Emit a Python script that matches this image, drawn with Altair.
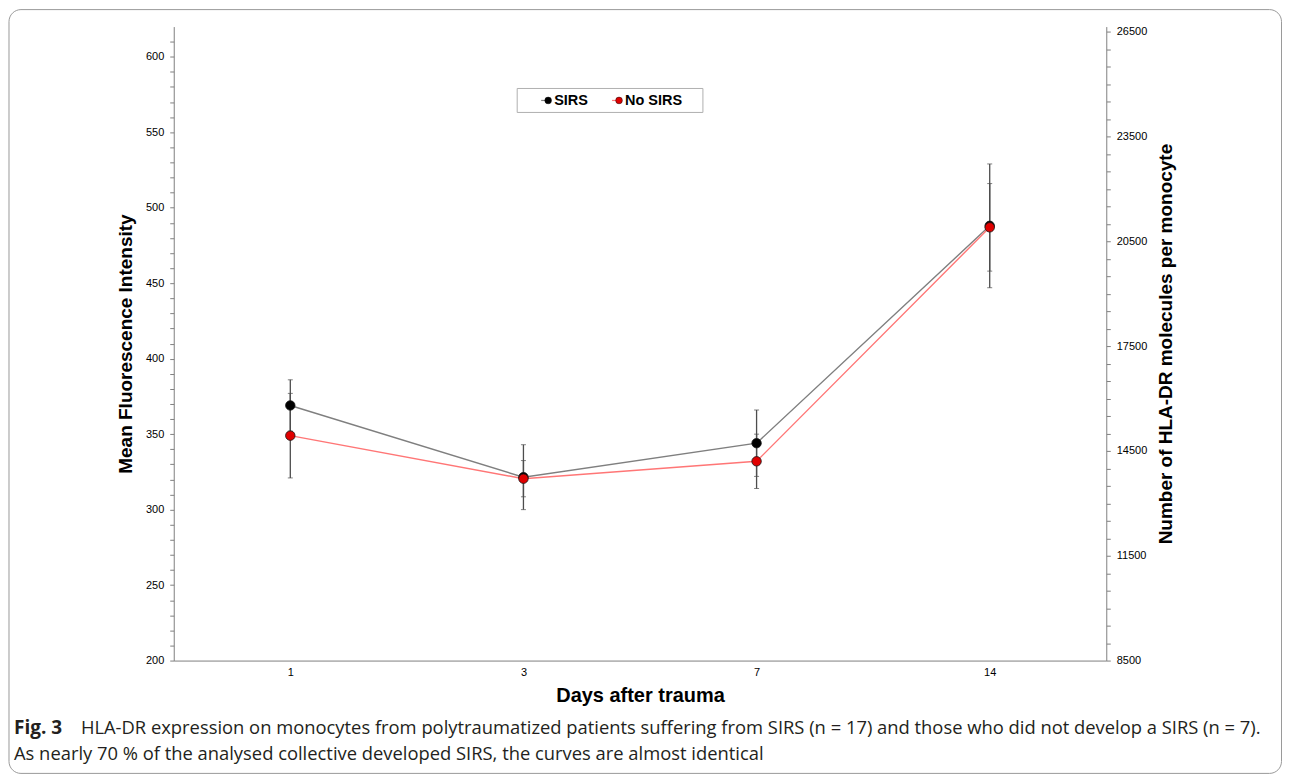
import altair as alt
import pandas as pd

# ---- data ----
days = ["1", "3", "7", "14"]
series = ["SIRS", "No SIRS"]
sirs_mean = [369, 321.5, 344, 488]
sirs_err = [17, 21.5, 22, 41]
nosirs_mean = [349, 320.5, 332, 487]
nosirs_err = [28, 12, 18, 29]

left_ticks = list(range(200, 620, 10))
right_ticks = list(range(8500, 26501, 500))

caption_bold = "Fig. 3"
caption_line1 = ("HLA-DR expression on monocytes from polytraumatized patients suffering from SIRS "
                 "(n = 17) and those who did not develop a SIRS (n = 7).")
caption_line2 = "As nearly 70 % of the analysed collective developed SIRS, the curves are almost identical"

point_colors = ["#000000", "#e00000"]
line_colors = ["#7f7f7f", "#ff7676"]

rows = []
for s, means, errs in [("SIRS", sirs_mean, sirs_err), ("No SIRS", nosirs_mean, nosirs_err)]:
    for d, m, e in zip(days, means, errs):
        rows.append({"day": d, "series": s, "group": s, "mean": m, "lo": m - e, "hi": m + e})
df = pd.DataFrame(rows)
one = pd.DataFrame({"k": [0]})
legend_df = pd.DataFrame({"series": series})
right_df = pd.DataFrame({"v": [8500, 26500]})

W, H = 934, 635
AX_FONT = "Liberation Sans"

x_enc = alt.X(
    "day:N", sort=days,
    scale=alt.Scale(type="point", domain=days, padding=0.5),
    axis=alt.Axis(title="Days after trauma", ticks=False, tickSize=0, labelPadding=6,
                  labelAngle=0, labelFont=AX_FONT, labelFontSize=11, labelColor="black",
                  domainColor="#808080", titleFont=AX_FONT, titleFontSize=20,
                  titleFontWeight="bold", titleColor="black", titlePadding=8, grid=False,
                  zindex=1),
)

left_axis = alt.Axis(
    orient="left", title="Mean Fluorescence Intensity", values=left_ticks,
    labelExpr="datum.value % 50 == 0 ? datum.label : ''", format="d",
    tickSize=4, tickColor="#808080", domainColor="#808080", labelPadding=6,
    labelFont=AX_FONT, labelFontSize=11, labelColor="black",
    titleFont=AX_FONT, titleFontSize=19, titleFontWeight="bold", titleColor="black",
    titlePadding=10, grid=False, zindex=1,
)
yscale = alt.Scale(domain=[200, 620], nice=False, zero=False)
pscale = alt.Scale(domain=series, range=point_colors)


def ly(field):
    return alt.Y(field, type="quantitative", scale=yscale, axis=left_axis)


base = alt.Chart(df)

frame = alt.Chart(one).mark_rect(fill="white", fillOpacity=0, stroke="#9a9a9a", strokeWidth=1,
                                 cornerRadius=12).encode(
    x=alt.value(-165), x2=alt.value(1109.5), y=alt.value(-17), y2=alt.value(748)
)

rules = base.mark_rule(color="#4d4d4d", strokeWidth=1.3).encode(x=x_enc, y=ly("lo"), y2="hi:Q")
cap_lo = base.mark_tick(color="#4d4d4d", size=5, thickness=1, orient="horizontal").encode(x=x_enc, y=ly("lo"))
cap_hi = base.mark_tick(color="#4d4d4d", size=5, thickness=1, orient="horizontal").encode(x=x_enc, y=ly("hi"))

lines = base.mark_line(strokeWidth=1.4).encode(
    x=x_enc, y=ly("mean"),
    stroke=alt.Stroke("group:N", scale=alt.Scale(domain=series, range=line_colors), legend=None),
)

points = base.mark_circle(size=90, opacity=1, stroke="#151515", strokeWidth=0.8).encode(
    x=x_enc, y=ly("mean"),
    color=alt.Color("series:N", scale=pscale, legend=None),
)

# ---- legend (box, symbols, labels) ----
legend_box = alt.Chart(one).mark_rect(fill="white", fillOpacity=0, stroke="#b0b0b0", strokeWidth=1).encode(
    x=alt.value(344), x2=alt.value(530), y=alt.value(62), y2=alt.value(86)
)
legend_layers = [legend_box]
for name, sx in [("SIRS", 375), ("No SIRS", 446)]:
    ld = alt.Chart(legend_df).transform_filter(alt.datum.series == name)
    legend_layers.append(
        ld.mark_rule(strokeWidth=1.2).encode(
            x=alt.value(sx - 7), x2=alt.value(sx + 2), y=alt.value(74),
            stroke=alt.Stroke("series:N", scale=pscale, legend=None))
    )
    legend_layers.append(
        ld.mark_circle(size=45, opacity=1, stroke="#111111", strokeWidth=0.5).encode(
            x=alt.value(sx), y=alt.value(74), color=alt.Color("series:N", scale=pscale, legend=None))
    )
    legend_layers.append(
        ld.mark_text(align="left", baseline="middle", font=AX_FONT, fontSize=14.5, fontWeight="bold",
                     color="black").encode(
            x=alt.value(sx + 6), y=alt.value(74.5), text="series:N")
    )

cap_style = dict(align="left", baseline="alphabetic", font="Open Sans", color="#231f20")
cap1b = alt.Chart(one).mark_text(fontWeight="bold", fontSize=19, **cap_style).encode(
    x=alt.value(-160), y=alt.value(709), text=alt.value(caption_bold))
cap1 = alt.Chart(one).mark_text(fontSize=18.4, **cap_style).encode(
    x=alt.value(-93), y=alt.value(709), text=alt.value(caption_line1))
cap2 = alt.Chart(one).mark_text(fontSize=18.4, **cap_style).encode(
    x=alt.value(-160), y=alt.value(735), text=alt.value(caption_line2))

left = alt.layer(frame, rules, cap_lo, cap_hi, lines, points, *legend_layers, cap1b, cap1, cap2)

right = alt.Chart(right_df).mark_point(opacity=0).encode(
    y=alt.Y("v:Q", scale=alt.Scale(domain=[8500, 26643], nice=False, zero=False),
            axis=alt.Axis(orient="right", title="Number of HLA-DR molecules per monocyte",
                          values=right_ticks, format="d",
                          labelExpr="(datum.value - 8500) % 3000 == 0 ? datum.label : ''",
                          tickSize=4, tickColor="#808080", domainColor="#808080", labelPadding=6,
                          labelFont=AX_FONT, labelFontSize=11, labelColor="black",
                          titleFont=AX_FONT, titleFontSize=19, titleFontWeight="bold",
                          titleColor="black", titleAngle=270, titleBaseline="top",
                          titlePadding=10, grid=False, zindex=1))
)

chart = alt.layer(left, right).resolve_scale(y="independent").properties(
    width=W, height=H, padding=0, background="white"
).configure_view(stroke=None)

chart.save("out.html", embed_options={"renderer": "svg", "actions": False})
